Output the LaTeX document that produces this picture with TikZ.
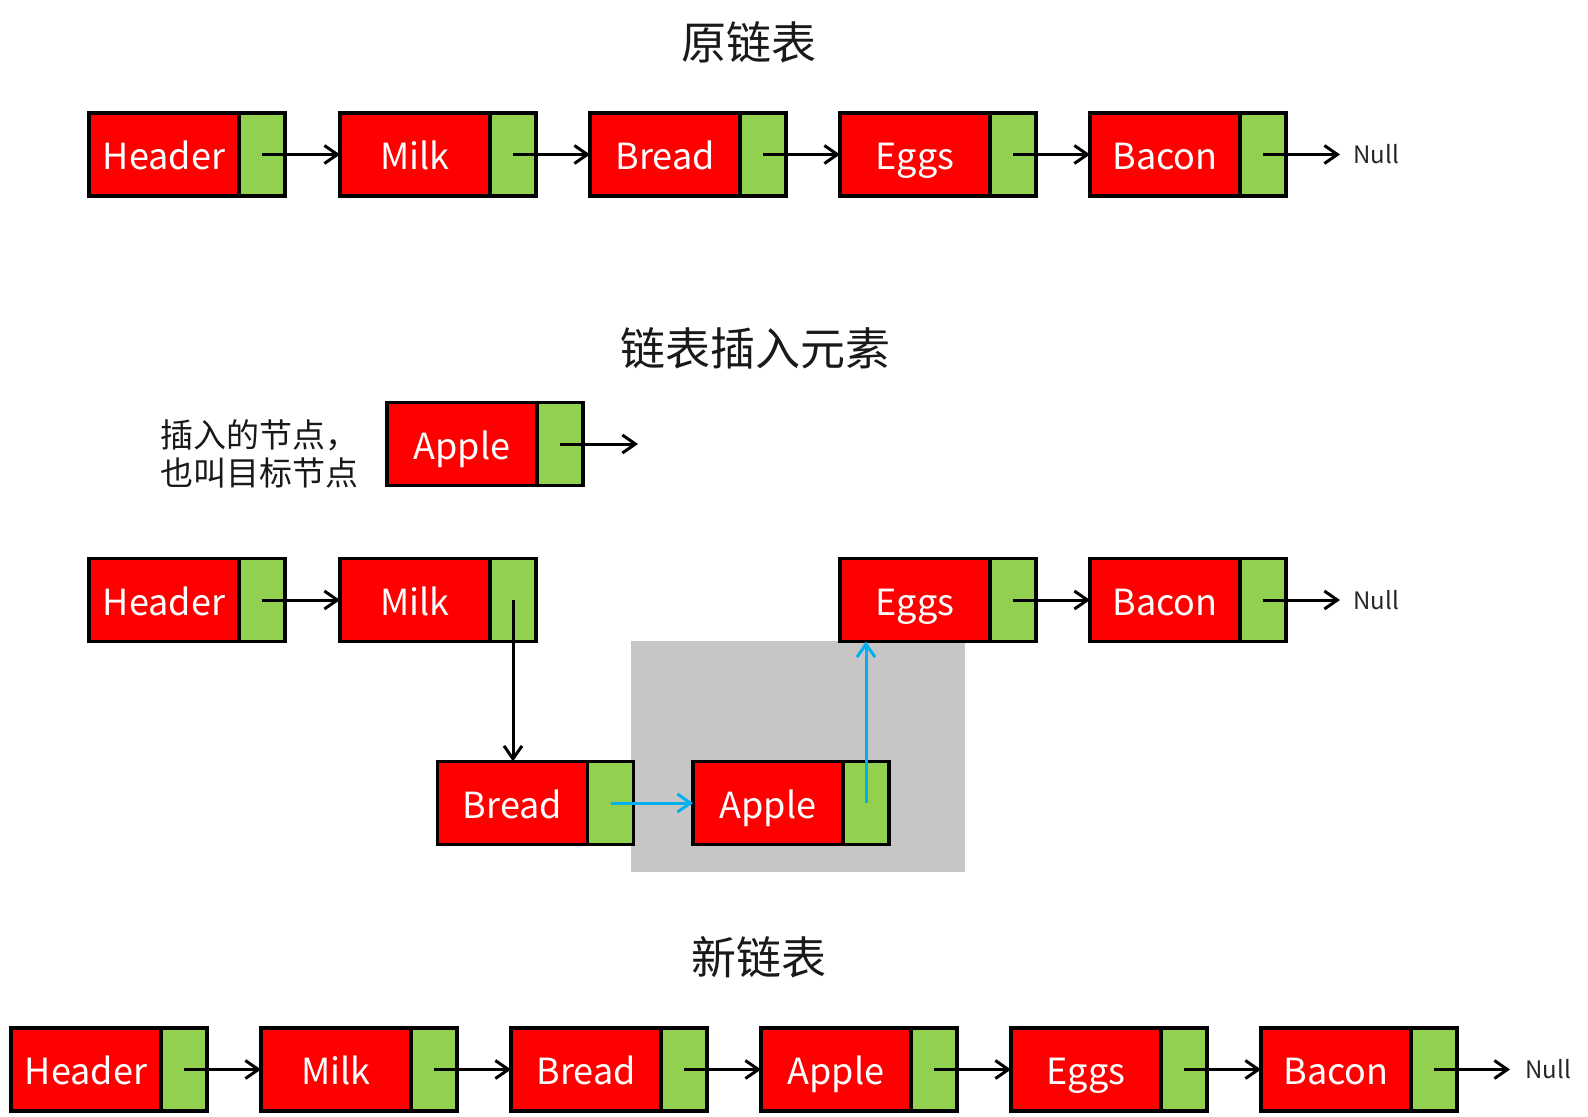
\documentclass[tikz,border=0pt]{standalone}
\usepackage{fontspec}
\setmainfont{Noto Sans CJK SC}
\usetikzlibrary{arrows.meta}
\definecolor{nodered}{RGB}{255,0,0}
\definecolor{nodegreen}{RGB}{146,208,80}
\definecolor{shadegray}{RGB}{199,197,198}
\definecolor{linkblue}{RGB}{0,176,240}
\tikzset{
  datapart/.style={draw=black, line width=1.6pt, fill=nodered, text=white,
    minimum width=75pt, minimum height=41.5pt, inner sep=0pt, outer sep=0pt,
    text height=15pt, text depth=0pt,
    font=\fontsize{18}{20}\selectfont, anchor=west},
  ptrpart/.style={draw=black, line width=1.6pt, fill=nodegreen,
    minimum width=23pt, minimum height=41.5pt, inner sep=0pt, outer sep=0pt, anchor=west},
  link/.style={line width=1.5pt, -{Straight Barb[length=6.5pt,width=9pt]}},
  bluelink/.style={link, draw=linkblue},
  nulltext/.style={font=\fontsize{12}{14}\selectfont, text=black!85, inner sep=0pt, anchor=west},
  headtext/.style={font=\fontsize{22.5}{26}\selectfont, text=black!90, inner sep=0pt},
  notetext/.style={font=\fontsize{16.5}{19}\selectfont, text=black!90, inner sep=0pt, anchor=west, align=left},
}
\newcommand\listnode[4]{%
  \node[datapart] (#1) at (#2,#3) {#4};
  \node[ptrpart] (#1p) at (#1.east) {};
}
\begin{document}
\begin{tikzpicture}[x=0.5pt, y=-0.5pt]
\useasboundingbox (0,0) rectangle (1588,1117);

% titles
\node[headtext] (title1) at (749,42.5) {原链表};
\node[headtext] (title2) at (755.5,348) {链表插入元素};
\node[headtext] (title3) at (758.6,957) {新链表};

% row 1: original list
\listnode{h1}{89}{154.5}{Header}
\listnode{m1}{340}{154.5}{Milk}
\listnode{b1}{590}{154.5}{Bread}
\listnode{e1}{840}{154.5}{Eggs}
\listnode{c1}{1090}{154.5}{Bacon}
\coordinate (z1) at (1340,154.5);
\node[nulltext] (n1) at (1353,154.5) {Null};
\draw[link] (h1p.center) -- (m1.west);
\draw[link] (m1p.center) -- (b1.west);
\draw[link] (b1p.center) -- (e1.west);
\draw[link] (e1p.center) -- (c1.west);
\draw[link] (c1p.center) -- (z1);

% insertion
\node[notetext] (note) at (160,454) {插入的节点，\\也叫目标节点};
\listnode{ap1}{387}{444}{Apple}
\coordinate (t1) at (638,444);
\draw[link] (ap1p.center) -- (t1);

\fill[shadegray] (631,641) rectangle (964.6,872);

\listnode{h2}{89}{600}{Header}
\listnode{m2}{340}{600}{Milk}
\listnode{e2}{840}{600}{Eggs}
\listnode{c2}{1090}{600}{Bacon}
\listnode{br2}{437.5}{803}{Bread}
\listnode{ap2}{693}{803}{Apple}
\coordinate (z2) at (1340,600);
\node[nulltext] (n2) at (1353,600) {Null};
\draw[link] (h2p.center) -- (m2.west);
\draw[link] (e2p.center) -- (c2.west);
\draw[link] (c2p.center) -- (z2);
\draw[link] (m2p.center) -- (m2p.center |- br2.north);
\draw[bluelink] (br2p.center) -- (ap2.west);
\draw[bluelink] (ap2p.center) -- (ap2p.center |- e2.south);

% new list
\listnode{h3}{11}{1069.5}{Header}
\listnode{m3}{261}{1069.5}{Milk}
\listnode{b3}{511}{1069.5}{Bread}
\listnode{a3}{761}{1069.5}{Apple}
\listnode{e3}{1011}{1069.5}{Eggs}
\listnode{c3}{1261}{1069.5}{Bacon}
\coordinate (z3) at (1510,1069.5);
\node[nulltext] (n3) at (1525,1069.5) {Null};
\draw[link] (h3p.center) -- (m3.west);
\draw[link] (m3p.center) -- (b3.west);
\draw[link] (b3p.center) -- (a3.west);
\draw[link] (a3p.center) -- (e3.west);
\draw[link] (e3p.center) -- (c3.west);
\draw[link] (c3p.center) -- (z3);
\end{tikzpicture}
\end{document}
